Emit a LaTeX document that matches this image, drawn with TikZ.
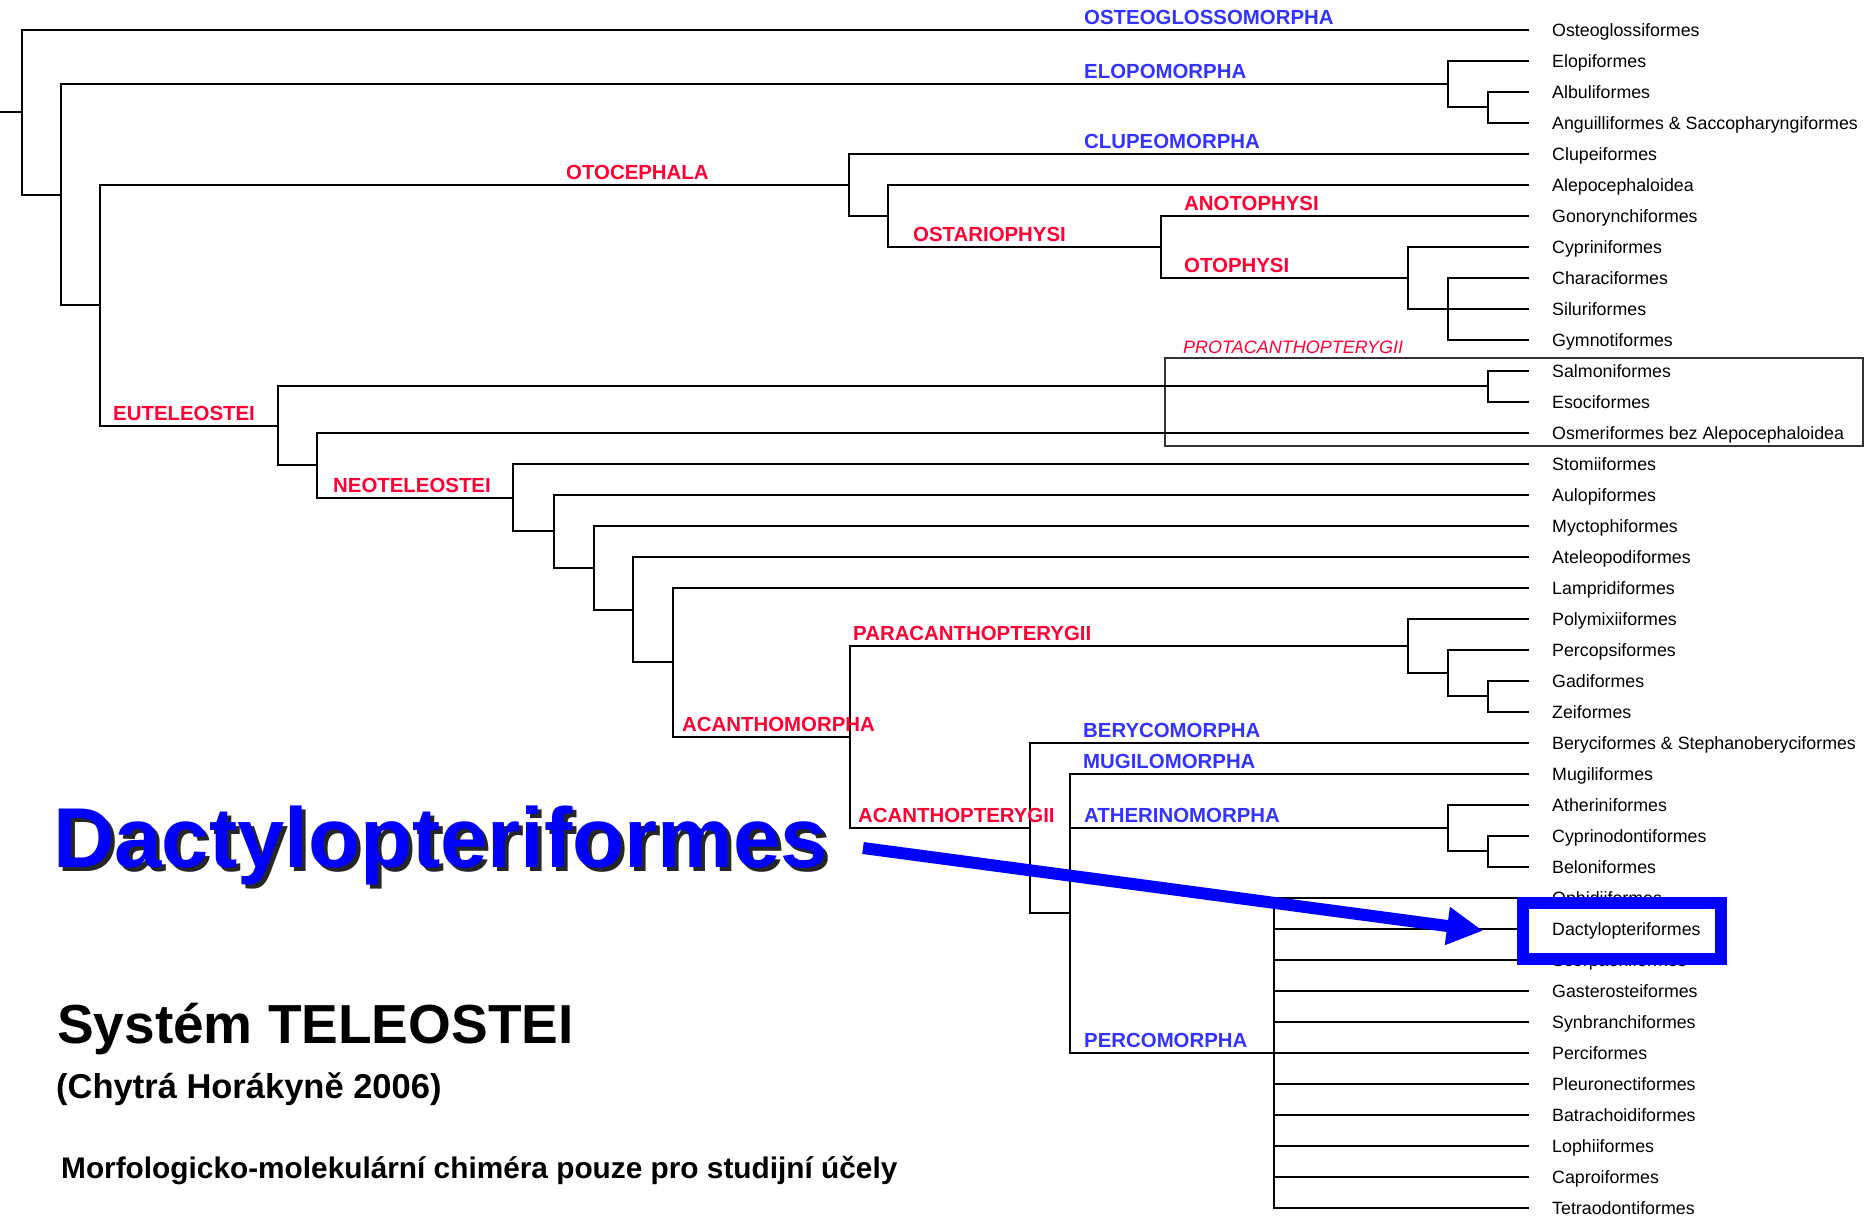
\documentclass[tikz,border=0pt]{standalone}
\usepackage{fontspec}
\setmainfont{Liberation Sans}
\usetikzlibrary{positioning,arrows.meta}

\definecolor{cladered}{RGB}{255,0,51}
\definecolor{cladeblue}{RGB}{51,51,255}
\definecolor{markblue}{RGB}{0,0,255}

% text with a dark drop shadow behind it
\newcommand{\shadowtext}[1]{\rlap{\hspace{4pt}\raisebox{-4pt}{\color{black!85}#1}}#1}

\begin{document}
\begin{tikzpicture}[
  x=1pt, y=-1pt,
  branch/.style={line width=2.2pt},
  leaf/.style={inner xsep=23pt, inner ysep=0pt, text height=12.7pt, text depth=0pt,
    font=\fontsize{17.8}{20}\selectfont},
  clade/.style={anchor=base west, inner sep=0pt, font=\fontsize{20.4}{22}\selectfont\bfseries},
  red/.style={clade, text=cladered},
  blue/.style={clade, text=cladeblue},
  heading/.style={anchor=base west, inner sep=0pt},
  pointer/.style={markblue, line width=12pt, -{Triangle[length=36pt,width=36pt]}},
  hilite/.style={draw=markblue, line width=12pt, minimum width=198.5pt, minimum height=55.5pt, inner sep=0pt}
]
\useasboundingbox (0,0) rectangle (1872,1225);

% leaves
\foreach \txt [count=\i from 0] in {Osteoglossiformes, Elopiformes, Albuliformes,
  Anguilliformes \& Saccopharyngiformes, Clupeiformes, Alepocephaloidea, Gonorynchiformes,
  Cypriniformes, Characiformes, Siluriformes, Gymnotiformes, Salmoniformes, Esociformes,
  Osmeriformes bez Alepocephaloidea, Stomiiformes, Aulopiformes, Myctophiformes,
  Ateleopodiformes, Lampridiformes, Polymixiiformes, Percopsiformes, Gadiformes, Zeiformes,
  Beryciformes \& Stephanoberyciformes, Mugiliformes, Atheriniformes, Cyprinodontiformes,
  Beloniformes, Ophidiiformes, Dactylopteriformes, Scorpaeniformes, Gasterosteiformes,
  Synbranchiformes, Perciformes, Pleuronectiformes, Batrachoidiformes, Lophiiformes,
  Caproiformes, Tetraodontiformes}{
  \coordinate (t\i) at (1529, {30+31*\i});
  \node[leaf, right=0pt of t\i] (l\i) {\txt};
}

% inner nodes
\coordinate (rootstub) at (0,112);
\coordinate (tel) at (22,112);
\coordinate (elc) at (61,195);
\coordinate (elo) at (1448,84);
\coordinate (albang) at (1488,107);
\coordinate (cle) at (100,305);
\coordinate (otoc) at (849,185);
\coordinate (alos) at (888,216);
\coordinate (ostar) at (1161,247);
\coordinate (otoph) at (1408,278);
\coordinate (chsg) at (1448,309);
\coordinate (eut) at (278,426);
\coordinate (prot) at (1488,386);
\coordinate (osmn) at (317,465);
\coordinate (neo) at (513,498);
\coordinate (aul) at (554,531);
\coordinate (myc) at (594,568);
\coordinate (ate) at (633,610);
\coordinate (lam) at (673,662);
\coordinate (acm) at (850,737);
\coordinate (par) at (1408,646);
\coordinate (pc1) at (1448,673);
\coordinate (pc2) at (1488,696);
\coordinate (acp) at (1030,828);
\coordinate (mug) at (1070,913);
\coordinate (ath) at (1448,828);
\coordinate (ath2) at (1488,851);
\coordinate (per) at (1274,1053);

% protacanthopterygian frame
\node[draw=black!80, line width=1.2pt, inner sep=0pt, minimum width=698pt, minimum height=88pt] (protbox) at (1514,402) {};

\draw[branch] (rootstub) -- (tel);
\foreach \p/\c in {tel/t0, tel/elc, elc/elo, elc/cle, elo/t1, elo/albang, albang/t2, albang/t3,
  cle/otoc, cle/eut, otoc/t4, otoc/alos, alos/t5, alos/ostar, ostar/t6, ostar/otoph,
  otoph/t7, otoph/chsg, chsg/t8, chsg/t9, chsg/t10,
  eut/prot, eut/osmn, prot/t11, prot/t12, osmn/t13, osmn/neo, neo/t14, neo/aul,
  aul/t15, aul/myc, myc/t16, myc/ate, ate/t17, ate/lam, lam/t18, lam/acm,
  acm/par, acm/acp, par/t19, par/pc1, pc1/t20, pc1/pc2, pc2/t21, pc2/t22,
  acp/t23, acp/mug, mug/t24, mug/ath, mug/per, ath/t25, ath/ath2, ath2/t26, ath2/t27}
  \draw[branch] (\p) |- (\c);
\foreach \i in {28,...,38}
  \draw[branch] (per) |- (t\i);

% clade names
\node[blue] (nosteo) at (1084,24.5) {OSTEOGLOSSOMORPHA};
\node[blue] (nelopo) at (1084,78.5) {ELOPOMORPHA};
\node[blue] (nclupeo) at (1084,148.5) {CLUPEOMORPHA};
\node[red] (notoc) at (566,179.5) {OTOCEPHALA};
\node[red] (nanot) at (1184,210.5) {ANOTOPHYSI};
\node[red] (nostar) at (913,241.5) {OSTARIOPHYSI};
\node[red] (notoph) at (1184,272.5) {OTOPHYSI};
\node[clade, text=cladered, font=\fontsize{18}{20}\selectfont\itshape] (nprot) at (1183,353) {PROTACANTHOPTERYGII};
\node[red] (neut) at (113,420.5) {EUTELEOSTEI};
\node[red] (nneo) at (333,492.5) {NEOTELEOSTEI};
\node[red] (npara) at (853,640.5) {PARACANTHOPTERYGII};
\node[red] (nacm) at (682,731.5) {ACANTHOMORPHA};
\node[blue] (nbery) at (1083,737.5) {BERYCOMORPHA};
\node[blue] (nmugil) at (1083,768.5) {MUGILOMORPHA};
\node[red] (nacp) at (858,822.5) {ACANTHOPTERYGII};
\node[blue] (nather) at (1084,822.5) {ATHERINOMORPHA};
\node[blue] (nperco) at (1084,1047.5) {PERCOMORPHA};

% headings
\node[heading, text=markblue, font=\fontsize{85}{90}\selectfont\bfseries] (title) at (53,867) {\shadowtext{Dactylopteriformes}};
\node[heading, font=\fontsize{55}{60}\selectfont\bfseries] (system) at (57,1043) {Systém TELEOSTEI};
\node[heading, font=\fontsize{34.5}{40}\selectfont\bfseries] (author) at (56,1098) {(Chytrá Horákyně 2006)};
\node[heading, font=\fontsize{29.8}{34}\selectfont\bfseries] (note) at (61,1178) {Morfologicko-molekulární chiméra pouze pro studijní účely};

% highlight
\node[hilite] (hl) at (1621.75,930.75) {};
\coordinate (arrtail) at (863,848);
\draw[pointer] (arrtail) -- ([xshift=-33.5pt]hl.west);
\end{tikzpicture}
\end{document}
